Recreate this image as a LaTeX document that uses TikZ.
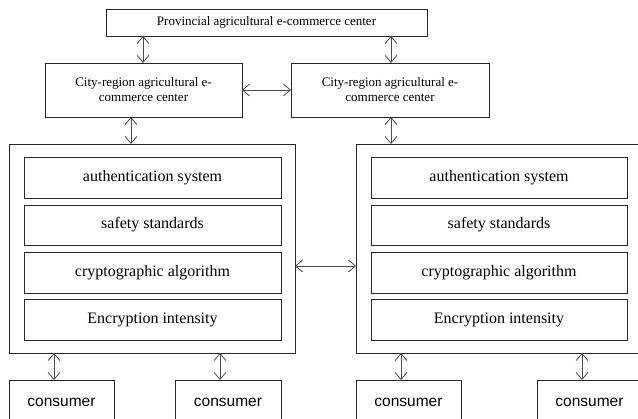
\documentclass[tikz,border=0pt]{standalone}
\usepackage{fontspec}
\setmainfont{Liberation Serif}
\newfontfamily\consfont{Liberation Sans}
\usetikzlibrary{arrows.meta}
\begin{document}
\begin{tikzpicture}[x=1pt,y=-1pt,
  box/.style={draw=black!85, line width=0.8pt, inner sep=0pt, outer sep=0pt, anchor=north west, align=center},
  smalltxt/.style={font=\fontsize{13}{15}\selectfont},
  innertxt/.style={font=\fontsize{16}{19}\selectfont},
  constxt/.style={font=\consfont\fontsize{15.5}{18}\selectfont},
  dbl/.style={{Straight Barb[length=7pt,width=12pt]}-{Straight Barb[length=7pt,width=12pt]}, line width=0.8pt, draw=black!70}]
\useasboundingbox (0,0) rectangle (638,419);
\clip (0,0) rectangle (638,419);
% top
\node[box, smalltxt, minimum width=321pt, minimum height=27pt] (prov) at (106,9) {Provincial agricultural e-commerce center};
% city
\node[box, smalltxt, minimum width=197pt, minimum height=54pt] (cityL) at (45,63) {City-region agricultural e-\\commerce center};
\node[box, smalltxt, minimum width=198pt, minimum height=54pt] (cityR) at (291,63) {City-region agricultural e-\\commerce center};
% big boxes
\node[box, minimum width=286pt, minimum height=209pt] (bigL) at (9,144) {};
\node[box, minimum width=286pt, minimum height=209pt] (bigR) at (356,144) {};
% inner left
\node[box, innertxt, minimum width=257pt, minimum height=41pt] (aL) at (24,157) {authentication system};
\node[box, innertxt, minimum width=257pt, minimum height=40pt] (sL) at (24,205) {safety standards};
\node[box, innertxt, minimum width=257pt, minimum height=41pt] (cL) at (24,252) {cryptographic algorithm};
\node[box, innertxt, minimum width=257pt, minimum height=41pt] (eL) at (24,299) {Encryption intensity};
% inner right
\node[box, innertxt, minimum width=256pt, minimum height=41pt] (aR) at (371,157) {authentication system};
\node[box, innertxt, minimum width=256pt, minimum height=40pt] (sR) at (371,205) {safety standards};
\node[box, innertxt, minimum width=256pt, minimum height=41pt] (cR) at (371,252) {cryptographic algorithm};
\node[box, innertxt, minimum width=256pt, minimum height=41pt] (eR) at (371,299) {Encryption intensity};
% consumers
\node[box, constxt, minimum width=105pt, minimum height=44pt] (c1) at (9,380) {consumer};
\node[box, constxt, minimum width=106pt, minimum height=44pt] (c2) at (175,380) {consumer};
\node[box, constxt, minimum width=105pt, minimum height=44pt] (c3) at (356,380) {consumer};
\node[box, constxt, minimum width=105pt, minimum height=44pt] (c4) at (537,380) {consumer};
% arrows
\draw[dbl] (prov.south -| 143,0) -- (cityL.north -| 143,0);
\draw[dbl] (prov.south -| 391,0) -- (cityR.north -| 391,0);
\draw[dbl] (cityL.east |- 0,90) -- (cityR.west |- 0,90);
\draw[dbl] (cityL.south -| 131,0) -- (bigL.north -| 131,0);
\draw[dbl] (cityR.south -| 391,0) -- (bigR.north -| 391,0);
\draw[dbl] (bigL.east |- 0,266) -- (bigR.west |- 0,266);
\draw[dbl] (bigL.south -| 54,0) -- (c1.north -| 54,0);
\draw[dbl] (bigL.south -| 220,0) -- (c2.north -| 220,0);
\draw[dbl] (bigR.south -| 401,0) -- (c3.north -| 401,0);
\draw[dbl] (bigR.south -| 582,0) -- (c4.north -| 582,0);
\end{tikzpicture}
\end{document}
